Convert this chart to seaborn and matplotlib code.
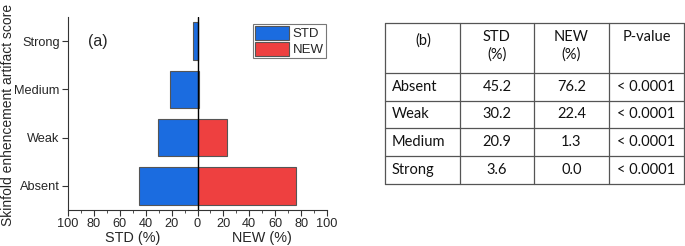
import matplotlib
matplotlib.use("Agg")
import matplotlib.pyplot as plt
import seaborn as sns
import pandas as pd
import numpy as np
from matplotlib.ticker import MultipleLocator, FuncFormatter

categories = ["Strong", "Medium", "Weak", "Absent"]
std_values = [3.6, 20.9, 30.2, 45.2]
new_values = [0.0, 1.3, 22.4, 76.2]
table_rows = ["Absent", "Weak", "Medium", "Strong"]
table_std = ["45.2", "30.2", "20.9", "3.6"]
table_new = ["76.2", "22.4", "1.3", "0.0"]
table_p = ["< 0.0001", "< 0.0001", "< 0.0001", "< 0.0001"]

sns.set_theme(style="ticks")
plt.rcParams["font.family"] = ["Liberation Sans", "DejaVu Sans"]

df = pd.DataFrame({
    "score": categories * 2,
    "value": [-v for v in std_values] + new_values,
    "group": ["STD"] * 4 + ["NEW"] * 4,
})

W, H = 685, 246
fig = plt.figure(figsize=(W / 100, H / 100), dpi=100)
ax = fig.add_axes([68 / W, (H - 210) / H, (327 - 68) / W, (210 - 17) / H])

sns.barplot(data=df, x="value", y="score", hue="group", order=categories,
            hue_order=["STD", "NEW"], palette={"STD": "#1b6ce0", "NEW": "#ee4040"},
            dodge=False, orient="h", width=0.78, edgecolor="#555555", linewidth=0.8,
            saturation=1, ax=ax)

ax.set_xlim(-100, 100)
ax.set_ylim(3.5, -0.5)
ax.axvline(0, color="black", lw=1.0)
ax.xaxis.set_major_locator(MultipleLocator(20))
ax.xaxis.set_minor_locator(MultipleLocator(10))
ax.xaxis.set_major_formatter(FuncFormatter(lambda v, p: f"{abs(int(round(v)))}"))
ax.tick_params(axis="x", which="major", direction="out", length=4, width=0.8, labelsize=9.2, pad=2, color="#333333")
ax.tick_params(axis="x", which="minor", direction="out", length=2, width=0.6, color="#333333")
ax.tick_params(axis="y", which="major", direction="out", length=4, width=0.8, labelsize=9.2, pad=2, color="#333333")
for s in ["top", "right"]:
    ax.spines[s].set_visible(False)
for s in ["left", "bottom"]:
    ax.spines[s].set_linewidth(0.8)
    ax.spines[s].set_color("#333333")
ax.set_ylabel("Skinfold enhencement artifact score", fontsize=10.0)
ax.yaxis.set_label_coords((15 - 68) / (327 - 68), (210 - 115) / (210 - 17))
ax.set_xlabel("")
fig.text(133 / W, 1 - 238 / H, "STD (%)", ha="center", va="center", fontsize=10.4)
fig.text(262 / W, 1 - 238 / H, "NEW (%)", ha="center", va="center", fontsize=10.4)
ax.text(-77, 0, "(a)", ha="center", va="center", fontsize=11.5)

leg = ax.legend(loc="upper left", bbox_to_anchor=((253 - 68) / (327 - 68), 1 - (24 - 17) / (210 - 17)),
                frameon=True, fancybox=False, fontsize=9.5, handlelength=2.6, handleheight=1.25,
                borderpad=0.15, labelspacing=0.1, handletextpad=0.25, borderaxespad=0)
leg.get_frame().set_edgecolor("#555555")
leg.get_frame().set_linewidth(0.8)

# table
tax = fig.add_axes([0, 0, 1, 1])
tax.set_xlim(0, W)
tax.set_ylim(H, 0)
tax.axis("off")
xs = [385, 460, 534, 609, 684]
ys = [23, 73, 101, 128, 156, 184]
lc = "#555555"
for x in xs:
    tax.plot([x, x], [ys[0], ys[-1]], color=lc, lw=0.9)
for y in ys:
    tax.plot([xs[0], xs[-1]], [y, y], color=lc, lw=0.9)
tf = dict(family=["Lato", "DejaVu Sans"], fontsize=10.5, color="#111111")
tax.text(423, 41, "(b)", ha="center", va="center", **tf)
tax.text((xs[1] + xs[2]) / 2, 37, "STD", ha="center", va="center", **tf)
tax.text((xs[1] + xs[2]) / 2, 55, "(%)", ha="center", va="center", **tf)
tax.text((xs[2] + xs[3]) / 2, 37, "NEW", ha="center", va="center", **tf)
tax.text((xs[2] + xs[3]) / 2, 55, "(%)", ha="center", va="center", **tf)
tax.text((xs[3] + xs[4]) / 2, 37, "P-value", ha="center", va="center", **tf)
for i, (r, s, n, p) in enumerate(zip(table_rows, table_std, table_new, table_p)):
    yc = (ys[i + 1] + ys[i + 2]) / 2
    tax.text(392, yc, r, ha="left", va="center", **tf)
    tax.text((xs[1] + xs[2]) / 2, yc, s, ha="center", va="center", **tf)
    tax.text((xs[2] + xs[3]) / 2, yc, n, ha="center", va="center", **tf)
    tax.text((xs[3] + xs[4]) / 2, yc, p, ha="center", va="center", **tf)

fig.savefig("out.png", dpi=100)
